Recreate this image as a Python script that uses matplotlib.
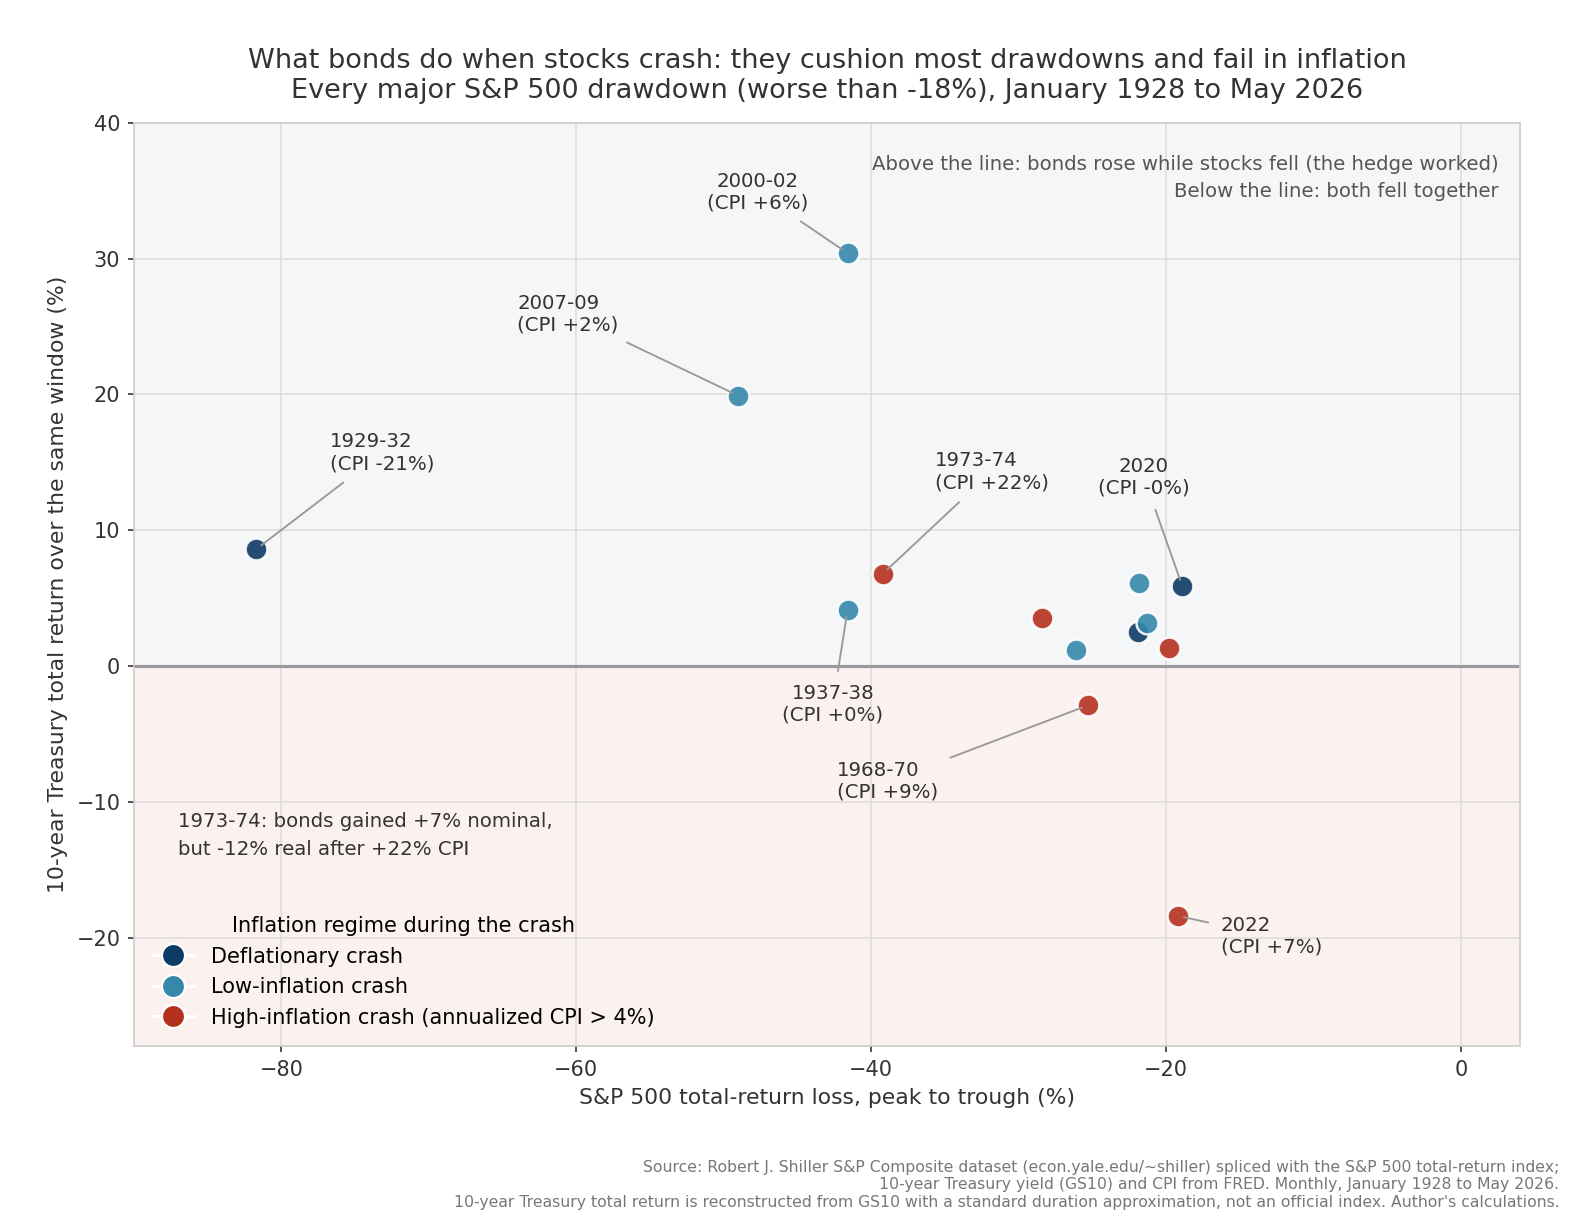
import matplotlib
matplotlib.use("Agg")
import matplotlib.pyplot as plt
from matplotlib.lines import Line2D

# S&P 500 drawdowns: loss (%) vs 10y Treasury total return (%)
sp_loss = [-81.7, -41.6, -49.0, -39.2, -41.6, -18.9, -21.8, -21.3, -21.9, -28.4, -26.1, -19.8, -25.3, -19.2]
bond_ret = [8.6, 30.4, 19.9, 6.8, 4.1, 5.9, 6.1, 3.2, 2.5, 3.5, 1.2, 1.3, -2.9, -18.4]
regime = ['defl', 'low', 'low', 'high', 'low', 'defl', 'low', 'low', 'defl', 'high', 'low', 'high', 'high', 'high']

# labelled episodes: (point index, label, text x, text y, ha)
labels = [
    (0, "1929-32\n(CPI -21%)", -76.7, 15.7, 'left'),
    (1, "2000-02\n(CPI +6%)", -47.7, 34.9, 'center'),
    (2, "2007-09\n(CPI +2%)", -64.0, 25.9, 'left'),
    (3, "1973-74\n(CPI +22%)", -35.7, 14.3, 'left'),
    (5, "2020\n(CPI -0%)", -21.5, 13.9, 'center'),
    (4, "1937-38\n(CPI +0%)", -42.6, -2.8, 'center'),
    (12, "1968-70\n(CPI +9%)", -42.3, -8.5, 'left'),
    (13, "2022\n(CPI +7%)", -16.3, -19.9, 'left'),
]

colors = {'defl': '#0e3a66', 'low': '#3587ab', 'high': '#b5311f'}
names = {'defl': 'Deflationary crash', 'low': 'Low-inflation crash',
         'high': 'High-inflation crash (annualized CPI > 4%)'}

fig, ax = plt.subplots(figsize=(10.5, 8.187), dpi=150)
ax.set_xlim(-90, 4)
ax.set_ylim(-28, 40)
ax.axhspan(0, 40, color='#f5f6f8', zorder=0)
ax.axhspan(-28, 0, color='#fbf2f0', zorder=0)
ax.grid(True, color='#dddddd', linewidth=0.8, zorder=1)
ax.set_axisbelow(True)
ax.axhline(0, color='#999999', linewidth=1.5, zorder=2)

for k in ['defl', 'low', 'high']:
    xs = [x for x, r in zip(sp_loss, regime) if r == k]
    ys = [y for y, r in zip(bond_ret, regime) if r == k]
    ax.scatter(xs, ys, s=110, color=colors[k], alpha=0.9, edgecolor='white', linewidth=1.2, zorder=4)

for i, txt, tx, ty, ha in labels:
    ax.annotate(txt, xy=(sp_loss[i], bond_ret[i]), xytext=(tx, ty), ha=ha, va='center',
                fontsize=9.5, color='#333333', zorder=5,
                arrowprops=dict(arrowstyle='-', color='#999999', lw=0.9, shrinkA=4, shrinkB=3))

ax.text(0.985, 0.965, "Above the line: bonds rose while stocks fell (the hedge worked)\nBelow the line: both fell together",
        transform=ax.transAxes, ha='right', va='top', fontsize=9.5, color='#555555', linespacing=1.5)
ax.text(-87, -12.5, "1973-74: bonds gained +7% nominal,\nbut -12% real after +22% CPI",
        ha='left', va='center', fontsize=9.5, color='#333333', linespacing=1.6)

for s in ax.spines.values():
    s.set_color('#cccccc')
ax.tick_params(colors='#333333', labelsize=10, length=3)
ax.set_xlabel("S&P 500 total-return loss, peak to trough (%)", fontsize=10.5, color='#333333')
ax.set_ylabel("10-year Treasury total return over the same window (%)", fontsize=10.5, color='#333333')
ax.set_title("What bonds do when stocks crash: they cushion most drawdowns and fail in inflation\n"
             "Every major S&P 500 drawdown (worse than -18%), January 1928 to May 2026",
             fontsize=13, color='#333333', pad=12)

handles = [Line2D([], [], marker='o', color='white', markerfacecolor=colors[k], markeredgecolor='white',
                  markersize=11, label=names[k]) for k in ['defl', 'low', 'high']]
ax.legend(handles=handles, title="Inflation regime during the crash", loc='lower left',
          frameon=False, fontsize=10, title_fontsize=10, bbox_to_anchor=(0.0, 0.0))

fig.text(0.99, 0.015, "Source: Robert J. Shiller S&P Composite dataset (econ.yale.edu/~shiller) spliced with the S&P 500 total-return index;\n"
         "10-year Treasury yield (GS10) and CPI from FRED. Monthly, January 1928 to May 2026.\n"
         "10-year Treasury total return is reconstructed from GS10 with a standard duration approximation, not an official index. Author's calculations.",
         ha='right', va='bottom', fontsize=7.5, color='#777777')

plt.subplots_adjust(left=0.085, right=0.965, top=0.9, bottom=0.148)
plt.savefig('out.png', dpi=150, facecolor='white')
